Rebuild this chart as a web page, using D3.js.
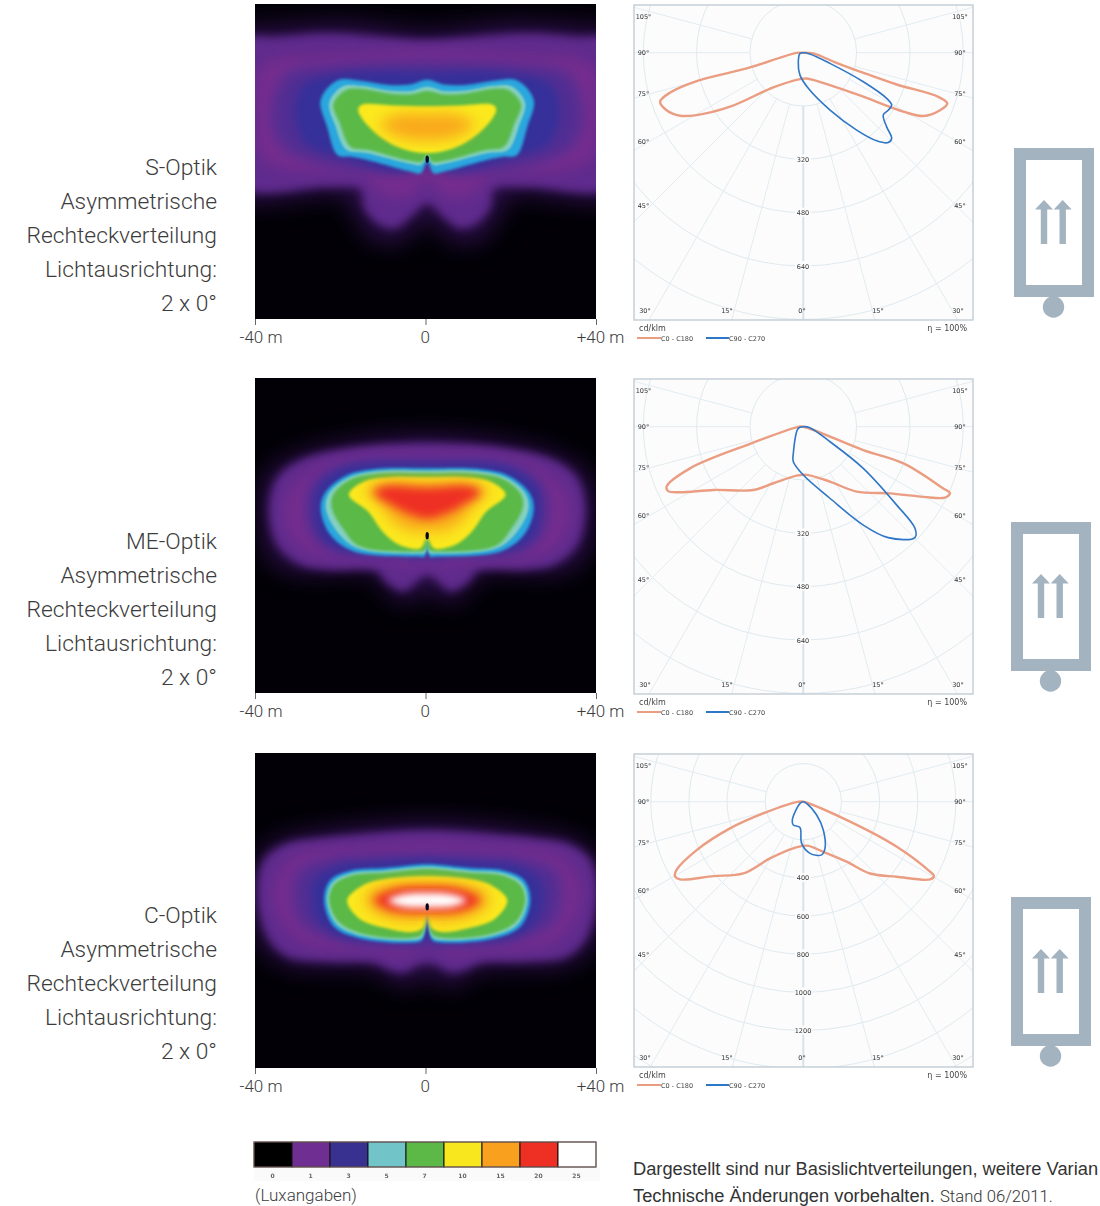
<!DOCTYPE html>
<html><head><meta charset="utf-8">
<script src="https://cdn.jsdelivr.net/npm/d3@7/dist/d3.min.js"></script>
<style>html,body{margin:0;padding:0;background:#fff;overflow:hidden}svg{display:block}</style>
</head><body><svg id="c" width="1100" height="1206"></svg>
<script>
// ---------- DATA ----------
const optikNames = ["S-Optik","ME-Optik","C-Optik"];
const descLines = ["Asymmetrische","Rechteckverteilung","Lichtausrichtung:","2 x 0°"];
const xTicks = [-40,0,40];
const xTickLabels = ["-40 m","0","+40 m"];
const luxValues = [0,1,3,5,7,10,15,20,25];
const luxColors = ["#000000","#6f2f92","#39318f","#71c5c9","#5cb947","#f8e71f","#f9a11f","#ee2f24","#ffffff"];
const isoLux  = [0.4,1,2,2.5,3,5,5.5,7,10,15,20,25];
const isoFill = ["#2c0f4a","#5f2b8d","#762d8e","#512e93","#35309a","#2aa7de","#86d0c0","#5ab947","#fbe91e","#f9a81c","#ee2f24","#ffffff"];
const isoBlur = [12,4.5,7,7,5,1.6,1.1,1.4,1.8,7,5,3.5];

// half outlines of each isolux line: [metres from axis, metres from top]
const sIso = [
 [0.4,[[0,6.5],[19,4.5],[40,5.6],[47,6],[47,44.5],[19,45],[17,49],[13.3,54.6],[7.8,56],[3,53],[0,49]]],
 [1,[[0,8.4],[12,7.6],[23.5,6.9],[35,7.7],[44,8.8],[44,42.5],[23.5,43],[15.6,43.6],[14.9,47.5],[11.7,51.4],[7.8,52.6],[3.9,50],[0,46.8]]],
 [2,[[0,10.8],[23.5,12],[35,12.7],[39.5,15.5],[40.5,25.6],[39,35.8],[32,39],[15,40.5],[10,45],[4,45],[0,41]]],
 [2.5,[[0,13.5],[22,14.3],[33,16.3],[36.5,25.6],[34,33.5],[24,37.8],[8,39.7],[0,38.5]]],
 [3,[[0,15.9],[20,16.3],[29,19],[31,25.6],[28.5,32.7],[19,36.2],[6,39.3],[0,37.4]]],
 [5,[[0,17.8],[3.9,18.9],[9,19],[15.6,18],[21,17.9],[25,22.5],[23.5,28.8],[21,35.5],[18,35.8],[14,36.6],[4,39.3],[1.5,39.7],[0,37]]],
 [5.5,[[0,19.4],[3.9,20.4],[9,20.3],[15.6,19.2],[19.8,19.3],[23,23.2],[21.6,28.4],[19,34.2],[14,35],[4,37.5],[1.5,37.8],[0,36.2]]],
 [7,[[0,20.4],[3.9,21.2],[9,21],[15.6,19.9],[19,20.2],[22,23.5],[20.5,28],[18,33.5],[13.5,34.3],[4,36.8],[1.2,37],[0,35.5]]],
 [10,[[0,24],[8,23.8],[15.5,23.7],[16.2,25],[13.3,29.2],[7,33.5],[0,35]]],
 [15,[[0,25.8],[7,26],[11,28.3],[7,31],[0,32]]]
];
const meIso = [
 [0.4,[[0,13.4],[19.5,15.3],[31.3,18.5],[37.5,22.8],[39.1,30.6],[36.7,42.3],[31.3,45.4],[11.7,46.2],[8.6,50.9],[4.7,52.5],[0,49.3]]],
 [1,[[0,15.3],[19.5,16.7],[29.7,19.2],[35.2,23.5],[37.1,30.6],[35.2,39.2],[29.7,43.9],[23.5,45],[11.7,45.4],[9.8,47.8],[5.5,50],[2.7,48],[0,46.2]]],
 [2,[[0,17.5],[19,18.5],[27,21.5],[32,26],[33.5,31],[31.5,38],[26,41.8],[10,43],[4,44.5],[0,43.5]]],
 [2.5,[[0,19],[16,19.5],[23,21.5],[27.5,25.5],[28.5,31],[27,37],[22,40.8],[6,41.8],[2,42.8],[0,41.8]]],
 [3,[[0,20],[15,20.2],[21,21.8],[25.5,25.5],[26.5,31],[25,37],[20,40.3],[5,41.3],[1.5,42],[0,40.5]]],
 [5,[[0,21.2],[11.7,21.3],[18.8,22.8],[23.8,26.7],[25,30.6],[22.7,36.8],[17.2,40.7],[2.3,41.9],[0.6,41.9],[0,38.4]]],
 [5.5,[[0,21.8],[11.7,21.9],[18.5,23.4],[23,27],[23.8,30.6],[21,36.2],[16.5,39.9],[2.2,41.2],[0.5,41],[0,38]]],
 [7,[[0,22.3],[11.5,22.4],[18,23.8],[22,27.3],[22.4,30.5],[19.5,35.7],[16,39.4],[2.2,40.7],[0.5,40.4],[0,37.5]]],
 [10,[[0,23.3],[8,23.3],[15,24.4],[18.4,27.4],[13.8,31.4],[10.5,36],[6.5,39.2],[1.6,40],[0,37.6]]],
 [15,[[0,24.3],[10,24.3],[14.5,26.2],[11,29.8],[7.8,33.7],[3.5,36],[0,35.8]]],
 [20,[[0,25.7],[10,25.4],[12.5,26.8],[8,30],[4,32],[0,33]]]
];
const cIso = [
 [0.4,[[0,16.1],[23.5,18.1],[34.4,20.4],[40,25.1],[40,43.1],[33.6,49.3],[11.7,50.9],[7.8,53.6],[4.7,54.7],[0,51.6]]],
 [1,[[0,18.1],[11.7,18.7],[25,20],[32.8,21.2],[38.3,25.1],[39.9,32.9],[37.5,43.1],[32.8,47.8],[23.5,49],[12.5,49.3],[8.6,51],[5.5,51.5],[2.7,50],[0,49.3]]],
 [2,[[0,21],[15,22],[25,22.5],[32,24.7],[36,32],[34,40],[28,45],[12,46.5],[5,47.5],[0,44.5]]],
 [2.5,[[0,23.5],[14,24],[23,24.8],[30,27.5],[31.5,34],[29.5,40],[24,43],[10,45],[2,45],[0,43]]],
 [3,[[0,25],[12,25.6],[21,26.5],[26.5,30],[27,34.5],[25.5,39.5],[20,43.2],[5,44.5],[1,44.5],[0,42.5]]],
 [5,[[0,26.1],[10,27],[18,27.6],[22.7,29.8],[24.2,34.5],[21.9,40.7],[15.6,43.5],[3.9,44.5],[1.2,43.9],[0,38]]],
 [5.5,[[0,26.7],[10,27.6],[17.8,28.2],[22.2,30.4],[23.5,34.5],[21.3,40.1],[15.4,42.9],[3.9,43.9],[1.2,43.2],[0,37.8]]],
 [7,[[0,27.2],[10,28.1],[17.5,28.7],[21.8,30.9],[23,34.5],[20.8,39.6],[15.1,42.4],[3.8,43.4],[1.2,42.6],[0,37.5]]],
 [10,[[0,28.9],[10,29.6],[15,31],[18.8,34.5],[16,38.8],[10,41],[3.5,42],[1,41],[0,37.5]]],
 [15,[[0,30.2],[9,30.8],[13,32],[14.7,34.5],[12,37.5],[7,39.2],[2.5,39.6],[0.7,38.8],[0,37]]],
 [20,[[0,31.4],[8,32],[12.5,34.5],[9,36.8],[3,37.5],[0,37.5]]],
 [25,[[0,32.8],[6,33.2],[9.2,34.6],[6,36],[0,36.3]]]
];
const isoSets = [sIso,meIso,cIso];

// polar curves: [degrees from nadir, cd/klm]
const sC0 = [[90,0],[86,30],[73,104],[71.4,200],[71.2,296],[71.9,426],[70.6,458],[67.2,445],[62.2,407],[59.5,348],[53.7,223],[39.5,126],[7.4,78],[-7.2,80],[-40.9,138],[-53.6,273],[-59.7,371],[-62.9,415],[-67.2,445],[-71.1,454],[-73.3,418],[-75.1,331],[-74.5,176],[-88,20]];
const sC90 = [[90,0],[-78.7,10],[-29,31],[-8.5,68],[8,108],[25,190],[34.6,282],[39.8,344],[43.4,371],[45.9,369],[48.4,334],[52.1,304],[56,308],[59.4,308],[61.3,285],[64.2,200],[68.2,86],[78.7,20]];
const meC0 = [[90,0],[68.7,193],[69.9,320],[66.2,459],[65.6,483],[63.4,475],[59.7,417],[52.4,328],[39.4,252],[25.9,183],[3.9,145],[-7.7,148],[-27.9,192],[-38.3,242],[-54.9,330],[-62,419],[-64.5,449],[-66.3,448],[-69.8,362],[-72,179],[-88,15]];
const meC90 = [[90,0],[-71.6,16],[-20.6,85],[-15.9,109],[0,145],[20.4,229],[31.4,346],[37.4,419],[45.2,472],[47.7,453],[50,366],[55.2,219],[60.6,92],[81.5,20]];
const cC0 = [[90,0],[67.4,227],[64.3,544],[61.1,759],[60.4,788],[58.5,780],[51.2,628],[42.9,514],[35.8,388],[21.8,283],[4.3,231],[-12.1,250],[-30.5,345],[-39.9,490],[-50.4,612],[-57.8,764],[-59.9,778],[-61.7,755],[-65.6,614],[-70,409],[-73.7,219],[-88,30]];
const cC90 = [[90,0],[-63.4,19],[-31,112],[-23.2,133],[-7.4,136],[-2.3,219],[7.4,273],[19,295],[24.9,270],[35.2,182],[45,99],[63.4,19]];
const c0Sets = [sC0,meC0,cC0];
const c90Sets = [sC90,meC90,cC90];
const ringSets = [[160,320,480,640,800,960],[160,320,480,640,800,960],[200,400,600,800,1000,1200,1400,1600]];
const ringLabels = [[320,480,640],[320,480,640],[400,600,800,1000,1200]];
const spokeAngles = [-105,-90,-75,-60,-45,-30,-15,0,15,30,45,60,75,90,105];
const legendSeries = ["C0 - C180","C90 - C270"];

// ---------- LAYOUT ----------
const svg = d3.select("#c");
const heatTops = [4,378,753], heatH = 315, heatL = 255, heatR = 596;
const frameTops = [5,379,754], frameBots = [320,694,1067], frameL = 634, frameR = 973;
const pxPerCd = [1/3, 1/3, 0.1907];
const iconX = [1014,1011,1011], iconY = [148,522,897];
const textBase = [175,549,923];
const sans = "Roboto, 'Noto Sans', sans-serif";
const defs = svg.append("defs");
isoLux.forEach((l,i)=>{
  defs.append("filter").attr("id","b"+i).attr("x","-30%").attr("y","-30%").attr("width","160%").attr("height","160%")
    .attr("color-interpolation-filters","sRGB")
    .append("feGaussianBlur").attr("stdDeviation",isoBlur[i]);
});
defs.append("filter").attr("id","soft").attr("x","-5%").attr("y","-5%").attr("width","110%").attr("height","110%")
  .append("feGaussianBlur").attr("stdDeviation",0.4);

const xHeat = d3.scaleLinear().domain([-40,40]).range([heatL,heatR]);
const fillOf = d3.scaleOrdinal(isoLux,isoFill);
const axisShift = 0.4; // light-point axis sits slightly right of 0

optikNames.forEach((name,p)=>{
  // --- description
  const t = svg.append("g").attr("font-family",sans).attr("font-weight",300)
    .attr("font-size",22.8).attr("fill","#3c3c3c").attr("text-anchor","end");
  [name,...descLines].forEach((s,i)=>t.append("text").attr("x",217).attr("y",textBase[p]+i*34).text(s));

  // --- isolux map
  const yHeat = d3.scaleLinear().domain([0,heatH/((heatR-heatL)/80)]).range([heatTops[p],heatTops[p]+heatH]);
  const clipId = "clip"+p;
  defs.append("clipPath").attr("id",clipId).append("rect")
    .attr("x",heatL).attr("y",heatTops[p]).attr("width",heatR-heatL).attr("height",heatH);
  const g = svg.append("g").attr("clip-path",`url(#${clipId})`);
  g.append("rect").attr("x",heatL).attr("y",heatTops[p]).attr("width",heatR-heatL).attr("height",heatH).attr("fill","#020006");
  const line = d3.line().x(d=>xHeat(d[0]+axisShift)).y(d=>yHeat(d[1])).curve(d3.curveCatmullRomClosed.alpha(0.5));
  isoSets[p].forEach(([lux,half])=>{
    const mirrored = half.filter(d=>d[0]!==0).map(d=>[-d[0],d[1]]).reverse();
    g.append("path").attr("d",line(half.concat(mirrored)))
      .attr("fill",fillOf(lux)).attr("filter",`url(#b${isoLux.indexOf(lux)})`);
  });
  const pitY = [36.4,37,36.1][p];
  g.append("ellipse").attr("cx",xHeat(axisShift)).attr("cy",yHeat(pitY)).attr("rx",1.7).attr("ry",3.6).attr("fill","#050520");

  // --- axis
  const ax = svg.append("g").attr("transform",`translate(0,${heatTops[p]+heatH})`)
    .call(d3.axisBottom(xHeat).tickValues(xTicks).tickSize(6).tickFormat((d,i)=>xTickLabels[i]));
  ax.select(".domain").remove();
  ax.selectAll("line").attr("stroke","#666").attr("stroke-width",1);
  ax.selectAll("text").attr("font-family",sans).attr("font-weight",300).attr("font-size",17).attr("fill","#3c3c3c")
    .attr("y",12).attr("dx",(d,i)=>[5.5,-0.8,4][i]);

  // --- polar
  const ox = 803.3, oy = frameTops[p]+47.7;
  const pol = svg.append("g");
  pol.append("rect").attr("x",frameL).attr("y",frameTops[p]).attr("width",frameR-frameL).attr("height",frameBots[p]-frameTops[p])
    .attr("fill","#fcfcfc");
  const clip2 = "pclip"+p;
  defs.append("clipPath").attr("id",clip2).append("rect")
    .attr("x",frameL).attr("y",frameTops[p]).attr("width",frameR-frameL).attr("height",frameBots[p]-frameTops[p]);
  const pg = pol.append("g").attr("clip-path",`url(#${clip2})`);
  const rScale = d3.scaleLinear().domain([0,1]).range([0,pxPerCd[p]]);
  const inner = rScale(ringSets[p][0]);
  ringSets[p].forEach(r=>pg.append("circle").attr("cx",ox).attr("cy",oy).attr("r",rScale(r))
    .attr("fill","none").attr("stroke","#dfeaef").attr("stroke-width",1));
  spokeAngles.forEach(a=>{
    const th = a*Math.PI/180, far = 520;
    pg.append("line").attr("x1",ox+inner*Math.sin(th)).attr("y1",oy+inner*Math.cos(th))
      .attr("x2",ox+far*Math.sin(th)).attr("y2",oy+far*Math.cos(th))
      .attr("stroke",a===0?"#d9e2ec":"#e2ecf1").attr("stroke-width",a===0?2:1);
  });
  pol.append("rect").attr("x",frameL).attr("y",frameTops[p]).attr("width",frameR-frameL).attr("height",frameBots[p]-frameTops[p])
    .attr("fill","none").attr("stroke","#c2ccd4").attr("stroke-width",1.4);
  const radial = d3.lineRadial().angle(d=>Math.PI-d[0]*Math.PI/180).radius(d=>rScale(d[1])).curve(d3.curveCatmullRomClosed.alpha(0.5));
  const cg = pol.append("g").attr("transform",`translate(${ox},${oy})`);
  cg.append("path").attr("d",radial(c0Sets[p])).attr("fill","none").attr("stroke","#eb9d82").attr("stroke-width",2.4);
  cg.append("path").attr("d",radial(c90Sets[p])).attr("fill","none").attr("stroke","#2f77c6").attr("stroke-width",1.6);

  const labels = pol.append("g").attr("font-family","'DejaVu Sans',sans-serif").attr("font-size",6.5).attr("fill","#333").attr("filter","url(#soft)");
  const sideLab = [["105°",-36],["90°",0],["75°",41],["60°",89],["45°",153]];
  sideLab.forEach(([s,dy])=>{
    labels.append("text").attr("x",643.5).attr("y",oy+dy+2.5).attr("text-anchor","middle").text(s);
    labels.append("text").attr("x",960).attr("y",oy+dy+2.5).attr("text-anchor","middle").text(s);
  });
  const botY = frameBots[p]-7.5;
  [["30°",645],["15°",727],["0°",802],["15°",878],["30°",958]].forEach(([s,x])=>
    labels.append("text").attr("x",x).attr("y",botY).attr("text-anchor","middle").text(s));
  ringLabels[p].forEach(r=>{
    const yy = oy+rScale(r);
    labels.append("rect").attr("x",795).attr("y",yy-5).attr("width",16).attr("height",9).attr("fill","#fcfcfc");
    labels.append("text").attr("x",803).attr("y",yy+2.5).attr("text-anchor","middle").text(r);
  });
  const leg = pol.append("g").attr("font-family","'DejaVu Sans',sans-serif").attr("fill","#444").attr("filter","url(#soft)");
  const ly = frameBots[p];
  leg.append("text").attr("x",639).attr("y",ly+11).attr("font-size",8).text("cd/klm");
  leg.append("text").attr("x",967).attr("y",ly+11).attr("font-size",8).attr("text-anchor","end").text("η = 100%");
  leg.append("line").attr("x1",637).attr("x2",661).attr("y1",ly+18).attr("y2",ly+18).attr("stroke","#eb9d82").attr("stroke-width",2);
  leg.append("text").attr("x",661).attr("y",ly+20.5).attr("font-size",6.5).text(legendSeries[0]);
  leg.append("line").attr("x1",706).attr("x2",729).attr("y1",ly+18).attr("y2",ly+18).attr("stroke","#2f77c6").attr("stroke-width",2);
  leg.append("text").attr("x",729).attr("y",ly+20.5).attr("font-size",6.5).text(legendSeries[1]);

  // --- mounting icon
  const ic = svg.append("g").attr("transform",`translate(${iconX[p]},${iconY[p]})`).attr("fill","#a3b3c0");
  ic.append("rect").attr("x",6).attr("y",6).attr("width",68).attr("height",137).attr("fill","none").attr("stroke","#a3b3c0").attr("stroke-width",12);
  ic.append("circle").attr("cx",39.5).attr("cy",159).attr("r",10.7);
  [30,48.7].forEach(c=>{
    ic.append("path").attr("d",`M${c},52 L${c+9},61.5 L${c+3.2},61.5 L${c+3.2},96 L${c-3.2},96 L${c-3.2},61.5 L${c-9},61.5 Z`);
  });
});

// ---------- colour legend ----------
const xLux = d3.scaleBand().domain(luxValues).range([254,596]);
const lg = svg.append("g");
lg.append("rect").attr("x",254).attr("y",1167).attr("width",346).attr("height",14).attr("fill","#fafafa");
lg.selectAll("rect.c").data(luxValues).join("rect").attr("class","c")
  .attr("x",d=>xLux(d)).attr("y",1142).attr("width",xLux.bandwidth()).attr("height",25)
  .attr("fill",(d,i)=>luxColors[i]).attr("stroke","#111").attr("stroke-width",1);
lg.append("rect").attr("x",254).attr("y",1142).attr("width",342).attr("height",25).attr("fill","none").attr("stroke","#9a7a78").attr("stroke-width",0.8);
lg.selectAll("text.l").data(luxValues).join("text").attr("class","l")
  .attr("x",d=>xLux(d)+xLux.bandwidth()/2-0.5).attr("y",1178).attr("text-anchor","middle")
  .attr("font-family","'DejaVu Sans',sans-serif").attr("font-size",6).attr("font-weight",700).attr("fill","#666").attr("filter","url(#soft)").text(d=>d);
svg.append("text").attr("x",255).attr("y",1201).attr("font-family",sans).attr("font-weight",300).attr("font-size",17).attr("fill","#3c3c3c").text("(Luxangaben)");

// ---------- notes ----------
svg.append("text").attr("x",633).attr("y",1174.5).attr("font-family","'Liberation Sans',Arial,sans-serif").attr("font-size",18.3).attr("fill","#333")
  .text("Dargestellt sind nur Basislichtverteilungen, weitere Varian");
const note = svg.append("text").attr("x",633).attr("y",1201.5).attr("fill","#333");
note.append("tspan").attr("font-family","'Liberation Sans',Arial,sans-serif").attr("font-size",18.3).text("Technische Änderungen vorbehalten. ");
note.append("tspan").attr("font-family",sans).attr("font-weight",300).attr("font-size",16.7).text("Stand 06/2011.");
</script></body></html>
